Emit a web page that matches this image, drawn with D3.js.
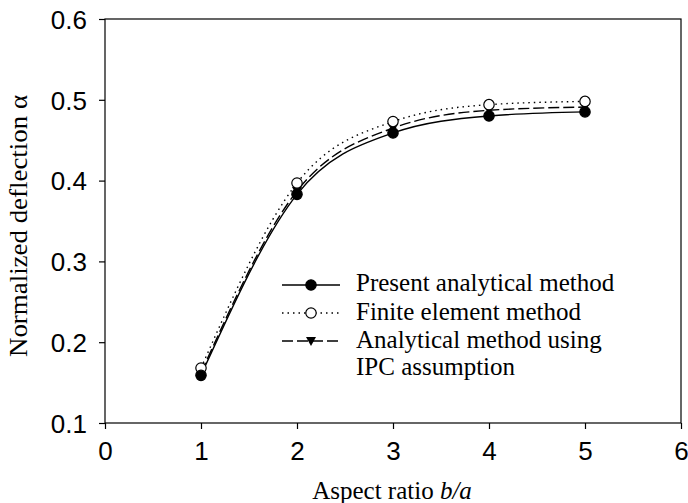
<!DOCTYPE html>
<html>
  <head>
    <script src="https://cdn.jsdelivr.net/npm/d3@7"></script>
    <style>
      body { margin: 0; background: white; }
      svg text { fill: black; }
    </style>
  </head>
  <body>
    <script>
      const ratios = [1, 2, 3, 4, 5]
      const present = [0.159, 0.383, 0.459, 0.480, 0.485]
      const fem = [0.168, 0.397, 0.473, 0.494, 0.498]
      const ipc = [0.162, 0.387, 0.465, 0.487, 0.491]
      const xTicks = [0, 1, 2, 3, 4, 5, 6]
      const yTicks = [0.1, 0.2, 0.3, 0.4, 0.5, 0.6]
      const legendLabels = ['Present analytical method', 'Finite element method', 'Analytical method using', 'IPC assumption']

      const W = 688, H = 503
      const m = {left: 105, right: 7, top: 19, bottom: 80}
      const serif = '"Liberation Serif", "Times New Roman", serif'

      const svg = d3.select('body').append('svg')
        .attr('width', W).attr('height', H)

      const x = d3.scaleLinear().domain([0, 6]).range([m.left, W - m.right])
      const y = d3.scaleLinear().domain([0.1, 0.6]).range([H - m.bottom, m.top])

      // frame
      svg.append('rect')
        .attr('x', x(0)).attr('y', y(0.6))
        .attr('width', x(6) - x(0)).attr('height', y(0.1) - y(0.6))
        .attr('fill', 'none').attr('stroke', 'black').attr('stroke-width', 1.2)

      const xAxis = svg.append('g')
        .attr('transform', `translate(0,${y(0.1)})`)
        .call(d3.axisBottom(x).tickValues(xTicks).tickSize(6).tickPadding(13).tickFormat(d3.format('d')))
      const yAxis = svg.append('g')
        .attr('transform', `translate(${x(0)},0)`)
        .call(d3.axisLeft(y).tickValues(yTicks).tickSize(6).tickPadding(12).tickFormat(d3.format('.1f')))

      ;[xAxis, yAxis].forEach(a => {
        a.select('.domain').remove()
        a.selectAll('line').attr('stroke-width', 1.2)
        a.selectAll('text')
          .attr('font-family', '"Liberation Sans", Arial, sans-serif')
          .attr('font-size', 26)
      })
      yAxis.selectAll('text').attr('dy', '0.36em')

      // axis titles
      const xt = svg.append('text')
        .attr('x', 392).attr('y', 499)
        .attr('text-anchor', 'middle')
        .attr('font-family', serif)
        .attr('font-size', 25)
      xt.append('tspan').text('Aspect ratio ')
      xt.append('tspan').attr('font-style', 'italic').text('b/a')

      svg.append('text')
        .attr('transform', `translate(27,226) rotate(-90)`)
        .attr('text-anchor', 'middle')
        .attr('font-family', serif)
        .attr('font-size', 25)
        .attr('textLength', 262)
        .attr('lengthAdjust', 'spacingAndGlyphs')
        .text('Normalized deflection α')

      const line = d3.line()
        .x((d, i) => x(ratios[i]))
        .y(d => y(d))
        .curve(d3.curveMonotoneX)

      const series = [
        {vals: present, dash: null, marker: 'filled'},
        {vals: fem, dash: '1.5,4', marker: 'open'},
        {vals: ipc, dash: '11,4', marker: 'tri'}
      ]

      const triPath = 'M-5,-4L5,-4L0,5Z'

      function drawMarker(g, type, cx, cy) {
        if (type === 'tri') {
          g.append('path').attr('d', triPath)
            .attr('transform', `translate(${cx},${cy})`)
            .attr('fill', 'black')
        } else {
          g.append('circle').attr('cx', cx).attr('cy', cy).attr('r', 5.2)
            .attr('fill', type === 'filled' ? 'black' : 'white')
            .attr('stroke', 'black').attr('stroke-width', 1.2)
        }
      }

      series.forEach(s => {
        svg.append('path')
          .attr('d', line(s.vals))
          .attr('fill', 'none')
          .attr('stroke', 'black')
          .attr('stroke-width', 1.4)
          .attr('stroke-dasharray', s.dash)
      })
      // markers: triangles, then open, then filled
      ;[series[2], series[1], series[0]].forEach(s => {
        const g = svg.append('g')
        s.vals.forEach((v, i) => drawMarker(g, s.marker, x(ratios[i]), y(v)))
      })

      // legend
      const lg = svg.append('g')
      const rows = [285, 313, 341]
      series.forEach((s, i) => {
        lg.append('line')
          .attr('x1', 282).attr('x2', 340)
          .attr('y1', rows[i]).attr('y2', rows[i])
          .attr('stroke', 'black').attr('stroke-width', 1.4)
          .attr('stroke-dasharray', s.dash)
        drawMarker(lg, s.marker, 311, rows[i])
      })
      legendLabels.forEach((t, i) => {
        lg.append('text')
          .attr('x', 356).attr('y', [291, 319.5, 347.5, 375][i])
          .attr('font-family', serif)
          .attr('font-size', 25)
          .text(t)
      })
    </script>
  </body>
</html>
